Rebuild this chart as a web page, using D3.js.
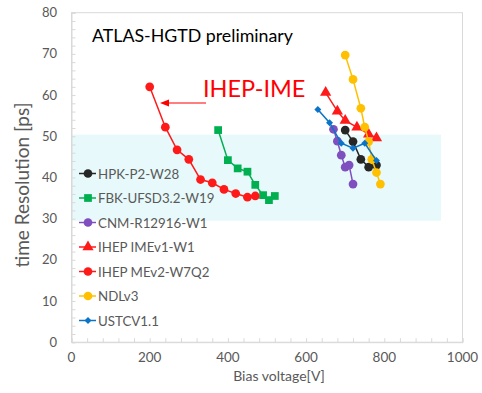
<!DOCTYPE html>
<html>
<head>
<meta charset="utf-8">
<script src="https://cdn.jsdelivr.net/npm/d3@7"></script>
<style>
  body { margin: 0; background: #fff; }
  svg { font-family: Lato, "Open Sans", sans-serif; }
</style>
</head>
<body>
<svg id="chart" width="482" height="393"></svg>
<script>
// data
var names = ["HPK-P2-W28", "FBK-UFSD3.2-W19", "CNM-R12916-W1", "IHEP IMEv1-W1", "IHEP MEv2-W7Q2", "NDLv3", "USTCV1.1"];
var colors = ["#262626", "#00b050", "#7f4fbf", "#ff1a1a", "#ff1a1a", "#ffc000", "#0a74c8"];
var shapes = ["circle", "square", "circle", "triangle", "circle", "circle", "diamond"];

var hpkV = [700, 720, 740, 760, 780];
var hpkT = [51.5, 48.7, 44.4, 42.5, 43.0];
var fbkV = [375, 400, 425, 450, 470, 490, 505, 520];
var fbkT = [51.5, 44.2, 42.2, 41.4, 38.2, 35.7, 34.5, 35.5];
var cnmV = [670, 680, 690, 700, 710, 720];
var cnmT = [51.7, 48.8, 45.4, 42.5, 43.0, 38.4];
var ime1V = [650, 680, 700, 730, 760, 780];
var ime1T = [60.6, 56.1, 53.8, 52.2, 50.5, 49.6];
var me2V = [200, 240, 270, 300, 330, 360, 390, 420, 450, 470];
var me2T = [62.0, 52.2, 46.7, 44.4, 39.5, 38.7, 37.1, 36.1, 35.2, 35.5];
var ndlV = [700, 720, 740, 750, 760, 768, 780, 790];
var ndlT = [69.7, 63.8, 56.8, 52.2, 48.7, 44.4, 41.2, 38.4];
var ustcV = [630, 660, 690, 720, 750, 780];
var ustcT = [56.5, 53.3, 48.3, 47.1, 48.3, 44.1];

var allV = [hpkV, fbkV, cnmV, ime1V, me2V, ndlV, ustcV];
var allT = [hpkT, fbkT, cnmT, ime1T, me2T, ndlT, ustcT];

var xTicks = [0, 200, 400, 600, 800, 1000];
var yTicks = [0, 10, 20, 30, 40, 50, 60, 70, 80];
var band = [0, 945, 29.5, 50.4];   // shaded region: V from, V to, T from, T to

var svg = d3.select("#chart");
var grey = "#595959", axisCol = "#d9d9d9";

var x = d3.scaleLinear().domain([0, 1000]).range([71.5, 462.5]);
var y = d3.scaleLinear().domain([0, 80]).range([342.2, 12.7]);

// shaded band
svg.append("rect")
  .attr("x", x(band[0])).attr("y", y(band[3]))
  .attr("width", x(band[1]) - x(band[0]))
  .attr("height", y(band[2]) - y(band[3]))
  .attr("fill", "#e7f9fa");

// frame
svg.append("rect")
  .attr("x", x(0)).attr("y", y(80))
  .attr("width", x(1000) - x(0)).attr("height", y(0) - y(80))
  .attr("fill", "none").attr("stroke", axisCol).attr("stroke-width", 1);

// minor ticks, pointing inward
var xAxis = svg.append("g").attr("transform", "translate(0," + y(0) + ")")
  .call(d3.axisTop(x).tickValues(d3.range(0, 1001, 40)).tickSize(4).tickFormat(""));
var yAxis = svg.append("g").attr("transform", "translate(" + x(0) + ",0)")
  .call(d3.axisRight(y).tickValues(d3.range(0, 81, 2)).tickSize(4).tickFormat(""));
[xAxis, yAxis].forEach(function(a) {
  a.selectAll("line").attr("stroke", axisCol);
  a.select(".domain").attr("stroke", axisCol);
});

// tick labels
svg.append("g").selectAll("text").data(xTicks).enter().append("text")
  .attr("x", d => x(d)).attr("y", 362)
  .attr("text-anchor", "middle").attr("fill", grey).attr("font-size", 13.5)
  .text(d => d);
svg.append("g").selectAll("text").data(yTicks).enter().append("text")
  .attr("x", 57).attr("y", d => y(d) + 4.5)
  .attr("text-anchor", "end").attr("fill", grey).attr("font-size", 13)
  .text(d => d);

// axis titles
svg.append("text")
  .attr("x", 279).attr("y", 381)
  .attr("text-anchor", "middle").attr("fill", grey).attr("font-size", 14)
  .text("Bias voltage[V]");
svg.append("text")
  .attr("transform", "translate(29,185) rotate(-90)")
  .attr("text-anchor", "middle").attr("fill", grey).attr("font-size", 19)
  .text("time Resolution [ps]");

svg.append("text")
  .attr("x", 92).attr("y", 42)
  .attr("fill", "#000").attr("font-size", 17.8)
  .text("ATLAS-HGTD preliminary");

// IHEP-IME label and arrow
svg.append("text")
  .attr("x", 203).attr("y", 97)
  .attr("fill", "#ff0000").attr("font-size", 23.5)
  .text("IHEP-IME");
svg.append("line")
  .attr("x1", 206).attr("y1", 103).attr("x2", 168).attr("y2", 103)
  .attr("stroke", "#ff0000").attr("stroke-width", 1.2);
svg.append("path")
  .attr("d", "M160,103 L169,99.5 L169,106.5 Z")
  .attr("fill", "#ff0000");

function symbolFor(s) {
  if (s == "square") return d3.symbol().type(d3.symbolSquare).size(60)();
  if (s == "triangle") return d3.symbol().type(d3.symbolTriangle).size(55)();
  if (s == "diamond") return d3.symbol().type(d3.symbolSquare).size(24)();
  return d3.symbol().type(d3.symbolCircle).size(60)();
}

var line = d3.line().x(d => x(d[0])).y(d => y(d[1]));

names.forEach(function(name, i) {
  var pts = allV[i].map((v, j) => [v, allT[i][j]]);
  var g = svg.append("g");
  g.append("path").datum(pts)
    .attr("d", line).attr("fill", "none")
    .attr("stroke", colors[i]).attr("stroke-width", 1.5);
  g.selectAll("path.m").data(pts).enter().append("path")
    .attr("class", "m")
    .attr("d", symbolFor(shapes[i]))
    .attr("transform", d => "translate(" + x(d[0]) + "," + y(d[1]) + ")" + (shapes[i] == "diamond" ? " rotate(45)" : ""))
    .attr("fill", colors[i]);
});

// legend
var legend = svg.append("g").selectAll("g").data(names).enter().append("g")
  .attr("transform", (d, i) => "translate(0," + (173.5 + i * 24.5) + ")");
legend.append("line")
  .attr("x1", 79).attr("x2", 96).attr("y1", 0).attr("y2", 0)
  .attr("stroke", (d, i) => colors[i]).attr("stroke-width", 1.5);
legend.append("path")
  .attr("d", (d, i) => symbolFor(shapes[i]))
  .attr("transform", (d, i) => "translate(88,0)" + (shapes[i] == "diamond" ? " rotate(45)" : ""))
  .attr("fill", (d, i) => colors[i]);
legend.append("text")
  .attr("x", 98).attr("y", 5)
  .attr("fill", grey).attr("font-size", 13.3)
  .text(d => d);
</script>
</body>
</html>
